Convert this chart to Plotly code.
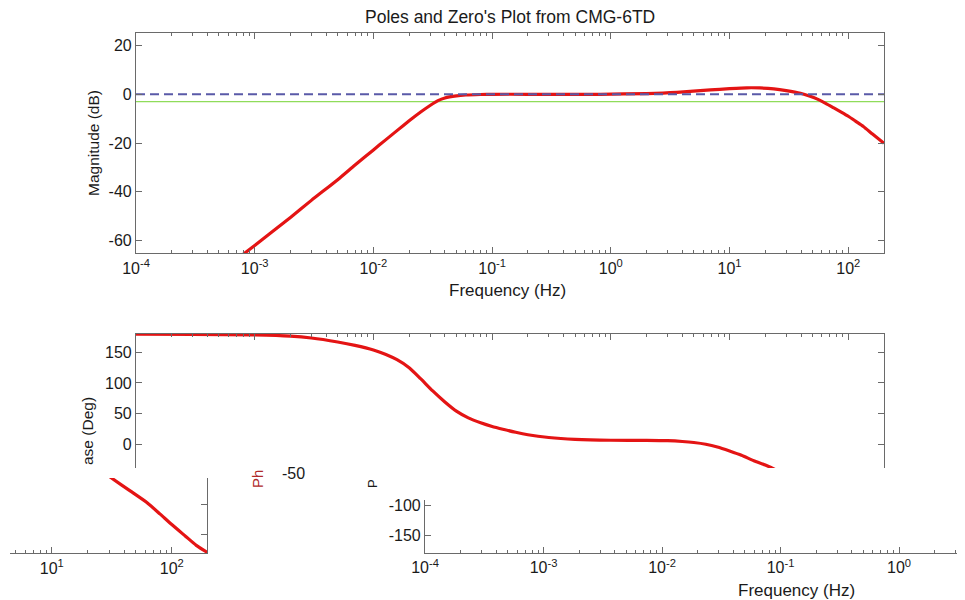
import math
import plotly.graph_objects as go

# ---------------- data ----------------
mag_freq = [7.8e-4, 1e-3, 2e-3, 3e-3, 5e-3, 7e-3, 1e-2, 1.26e-2, 1.58e-2, 2e-2,
            2.5e-2, 3e-2, 3.5e-2, 4e-2, 5e-2, 6e-2, 8e-2, 0.1, 0.2, 0.5, 0.82,
            2.0, 3.6, 6.9, 10.0, 14.0, 18.0, 23.6, 30.0, 39.6, 47.0, 55.0, 65.0,
            75.6, 88.0, 100.0, 115.0, 134.0, 160.0, 200.0]
mag_db = [-66.0, -62.0, -50.5, -43.5, -35.0, -29.0, -22.8, -18.8, -14.9, -10.9,
          -7.3, -4.6, -2.6, -1.5, -0.65, -0.3, -0.1, 0.0, 0.0, 0.0, 0.0,
          0.3, 0.8, 1.8, 2.3, 2.65, 2.6, 2.2, 1.5, 0.4, -0.7, -2.0, -3.8,
          -5.6, -7.4, -9.0, -11.0, -13.2, -16.3, -20.1]

ref_freq = [1e-4, 200.0]
ref_0db = [0, 0]
ref_3db = [-3, -3]

ph_freq = [1e-4, 3e-4, 1e-3, 2e-3, 3e-3, 5e-3, 7e-3, 1e-2, 1.26e-2, 1.58e-2,
           2e-2, 2.5e-2, 3.16e-2, 4e-2, 5e-2, 6.3e-2, 8e-2, 0.1, 0.126, 0.158,
           0.2, 0.3, 0.5, 1.0, 2.0, 3.0, 4.0, 5.0, 6.3, 7.9, 10.0, 12.6, 16.0,
           20.0, 24.5, 32.5, 45.0, 62.0, 80.0, 100.0, 130.0, 160.0, 200.0]
ph_deg = [179.8, 179.5, 178.5, 176.5, 173.5, 167.0, 161.5, 154.0, 147.0, 138.0,
          125.0, 107.0, 87.0, 69.0, 54.0, 43.0, 35.0, 29.0, 24.0, 19.5,
          15.5, 11.0, 8.0, 6.5, 6.3, 5.8, 4.5, 2.8, 0.0, -4.5, -11.0, -18.0, -27.0,
          -34.0, -42.0, -59.0, -78.0, -97.0, -116.0, -133.0, -152.0, -167.0, -179.0]

dec_vals = [1e-4, 1e-3, 1e-2, 1e-1, 1e0, 1e1, 1e2]
dec_text = ["10<sup>-4</sup>", "10<sup>-3</sup>", "10<sup>-2</sup>", "10<sup>-1</sup>",
            "10<sup>0</sup>", "10<sup>1</sup>", "10<sup>2</sup>"]
mag_ticks = [-60, -40, -20, 0, 20]
mag_tick_text = ["-60", "-40", "-20", "0", "20"]
ph_ticks_top = [0, 50, 100, 150]
ph_tick_top_text = ["0", "50", "100", "150"]
ph_ticks_low = [-150, -100]
ph_tick_low_text = ["-150", "-100"]

title_text = "Poles and Zero's Plot from CMG-6TD"
xlabel = "Frequency (Hz)"
mag_label = "Magnitude (dB)"
ph_label_visible = "ase (Deg)"

# ---------------- layout helpers ----------------
W, H = 965, 600
OX, OY = 8, 8          # page body offset of the plot div
def fx(x):
    return min(max((x - OX) / W, 0.0), 1.0)
def fy(y):
    return min(max(1 - (y - OY) / H, 0.0), 1.0)
def xd(a, b):
    return [fx(a), fx(b)]
def yd(top, bot):
    return [fy(bot), fy(top)]

minor_vals = [m * d for d in dec_vals for m in range(2, 10)]
FONT = "Liberation Sans, Arial, sans-serif"
AX = "#6a6a6a"
TXT = "#1a1a1a"
tickfont = dict(family=FONT, size=16, color=TXT)

def xaxis_cfg(rng, dom, anchor, labels=True, side="bottom", mirror=False):
    return dict(type="log", range=rng, domain=dom, anchor=anchor, side=side,
                automargin=False,
                showline=True, linecolor=AX, linewidth=1.2, mirror=mirror,
                ticks="inside", ticklen=6, tickcolor=AX, tickwidth=1,
                tickmode="array", tickvals=dec_vals, ticktext=dec_text,
                showticklabels=labels, tickfont=tickfont,
                minor=dict(tickmode="array", tickvals=minor_vals, ticks="inside",
                           ticklen=3, tickcolor=AX, tickwidth=1, showgrid=False),
                showgrid=False, zeroline=False)

def yaxis_cfg(rng, dom, anchor, tv, tt, labels=True, side="left", mirror=False):
    return dict(range=rng, domain=dom, anchor=anchor, side=side, automargin=False,
                showline=True, linecolor=AX, linewidth=1.2, mirror=mirror,
                ticks="inside", ticklen=6, tickcolor=AX, tickwidth=1,
                tickmode="array", tickvals=tv, ticktext=tt, showticklabels=labels,
                tickfont=tickfont, showgrid=False, zeroline=False)

LOGMAX = math.log10(200)

fig = go.Figure()
RED = "#e41414"
LINE = dict(color=RED, width=3.2, shape="spline", smoothing=0.6)
# magnitude panel
fig.add_trace(go.Scatter(x=ref_freq, y=ref_3db, mode="lines", xaxis="x", yaxis="y",
                         line=dict(color="#8fdc5a", width=1.3), showlegend=False))
fig.add_trace(go.Scatter(x=mag_freq, y=mag_db, mode="lines", xaxis="x", yaxis="y",
                         line=LINE, showlegend=False))
fig.add_trace(go.Scatter(x=ref_freq, y=ref_0db, mode="lines", xaxis="x", yaxis="y",
                         line=dict(color="#5a5aa8", width=2, dash="9px,5px"),
                         showlegend=False))
# phase panel (upper visible part)
fig.add_trace(go.Scatter(x=ph_freq, y=ph_deg, mode="lines", xaxis="x2", yaxis="y2",
                         line=LINE, showlegend=False))
# displaced fragment (right end of phase panel)
fig.add_trace(go.Scatter(x=ph_freq, y=ph_deg, mode="lines", xaxis="x3", yaxis="y3",
                         line=LINE, showlegend=False))
# displaced fragment (lower left of phase panel)
fig.add_trace(go.Scatter(x=ph_freq, y=ph_deg, mode="lines", xaxis="x4", yaxis="y4",
                         line=LINE, showlegend=False))

layout = dict(
    width=W, height=H, margin=dict(l=0, r=0, t=0, b=0, autoexpand=False),
    paper_bgcolor="white", plot_bgcolor="white", showlegend=False,
    font=dict(family=FONT, color=TXT),
    xaxis=xaxis_cfg([-4, LOGMAX], xd(136, 884), "y", labels=True, mirror="ticks"),
    yaxis=yaxis_cfg([-65.2, 25.0], yd(33.3, 253.3), "x", mag_ticks, mag_tick_text,
                    mirror="ticks"),
    xaxis2=xaxis_cfg([-4, LOGMAX], xd(136, 884), "y2", labels=False, side="top"),
    yaxis2=yaxis_cfg([-38.8, 180], yd(334, 468), "x2", ph_ticks_top, ph_tick_top_text,
                     mirror="ticks"),
    xaxis3=xaxis_cfg([0.652, 2.296], xd(10, 207.3), "y3", labels=True),
    yaxis3=yaxis_cfg([-180, -57], yd(478, 553.3), "x3", ph_ticks_low, ph_tick_low_text,
                     labels=False, side="right"),
    xaxis4=xaxis_cfg([-4, 0.557], xd(425, 965), "y4", labels=True),
    yaxis4=yaxis_cfg([-180, -91.5], yd(500, 553), "x4", ph_ticks_low, ph_tick_low_text),
)
fig.update_layout(**layout)

ann = [
    dict(text=title_text, x=510, y=17, font=dict(size=17.5)),
    dict(text=xlabel, x=508, y=290, font=dict(size=17)),
    dict(text=xlabel, x=796, y=590, font=dict(size=17)),
    dict(text=mag_label, x=93, y=143, textangle=-90, font=dict(size=15.5)),
    dict(text=ph_label_visible, x=87, y=467, yanchor="bottom",
         textangle=-90, font=dict(size=15.5)),
    dict(text="-50", x=293, y=474, font=dict(size=16)),
    dict(text="Ph", x=257, y=468, yanchor="top", textangle=-90,
         font=dict(size=15, color="#b02a2a")),
    dict(text="P", x=372, y=484, textangle=-90, font=dict(size=13)),
]
for a in ann:
    base = dict(xref="paper", yref="paper", showarrow=False, xanchor="center",
                yanchor=a.pop("yanchor", "middle"))
    f = dict(family=FONT, color=TXT)
    f.update(a.pop("font", {}))
    base["x"] = (a.pop("x") - OX) / W
    base["y"] = 1 - (a.pop("y") - OY) / H
    base.update(a)
    base["font"] = f
    fig.add_annotation(**base)

fig.write_html("out.html")
